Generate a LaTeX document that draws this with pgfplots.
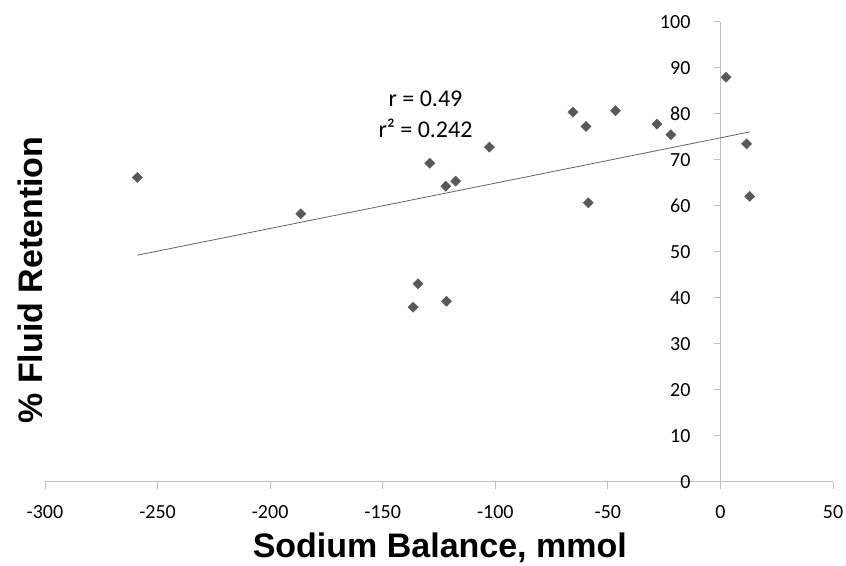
\documentclass[border=0pt]{standalone}
\usepackage{fontspec}
\setmainfont{Carlito}
\newfontfamily\arialf{Liberation Sans}
\usepackage{pgfplots}
\pgfplotsset{compat=1.18}
\definecolor{mk}{RGB}{89,89,89}
\definecolor{axc}{RGB}{191,191,191}
\definecolor{tl}{RGB}{100,100,100}
\begin{document}
\begin{tikzpicture}
\begin{axis}[
 scale only axis, width=591pt, height=345pt,
 xmin=-300, xmax=50, ymin=0, ymax=100,
 axis lines=middle, axis line style={-, axc, line width=0.75pt},
 hide obscured x ticks=false, hide obscured y ticks=false,
 xtick={-300,-250,-200,-150,-100,-50,0,50}, ytick={0,10,20,30,40,50,60,70,80,90,100},
 xticklabels={-300,-250,-200,-150,-100,-50,0,50},
 yticklabels={0,10,20,30,40,50,60,70,80,90,100},
 tick align=outside, major tick length=5pt,
 tick style={axc, line width=0.75pt},
 ticklabel style={font=\fontsize{15}{18}\selectfont, text=black},
 xticklabel style={yshift=-8.75pt},
 yticklabel style={xshift=-14pt},
 clip=false,
]
\coordinate (bl) at (rel axis cs:0,0);
\coordinate (tr) at (rel axis cs:1,1);
\addplot[only marks, mark=square*, mark size=2.65pt, mark options={rotate=45, fill=mk, draw=mk}] coordinates {
(-259,66.2) (-186.4,58.3) (-136.5,38.0) (-134.3,43.1) (-129.1,69.3) (-122,64.3)
(-121.7,39.3) (-117.6,65.4) (-102.6,72.8) (-65.5,80.4) (-59.7,77.3) (-58.7,60.7)
(-46.6,80.7) (-28.2,77.8) (-22,75.5) (2.5,88.0) (11.6,73.5) (13,62.1)
};
\addplot[tl, line width=0.6pt, no marks] coordinates {(-259,49.3) (13,76.1)};
\node[font=\fontsize{18}{21}\selectfont] at (axis cs:-131,83.3) {r = 0.49};
\node[font=\fontsize{18}{21}\selectfont] at (axis cs:-131,76.9) {r² = 0.242};
\node[font=\arialf\bfseries\fontsize{25.5}{30}\selectfont, yshift=-49.5pt] at (rel axis cs:0.501,0) {Sodium Balance, mmol};
\node[font=\arialf\bfseries\fontsize{25.5}{30}\selectfont, xshift=-11.25pt, rotate=90] at (rel axis cs:0,0.439) {\% Fluid Retention};
\end{axis}
\pgfresetboundingbox
\path ([xshift=-33.75pt,yshift=-63pt]bl) rectangle ([xshift=9.75pt,yshift=16.5pt]tr);
\end{tikzpicture}
\end{document}
